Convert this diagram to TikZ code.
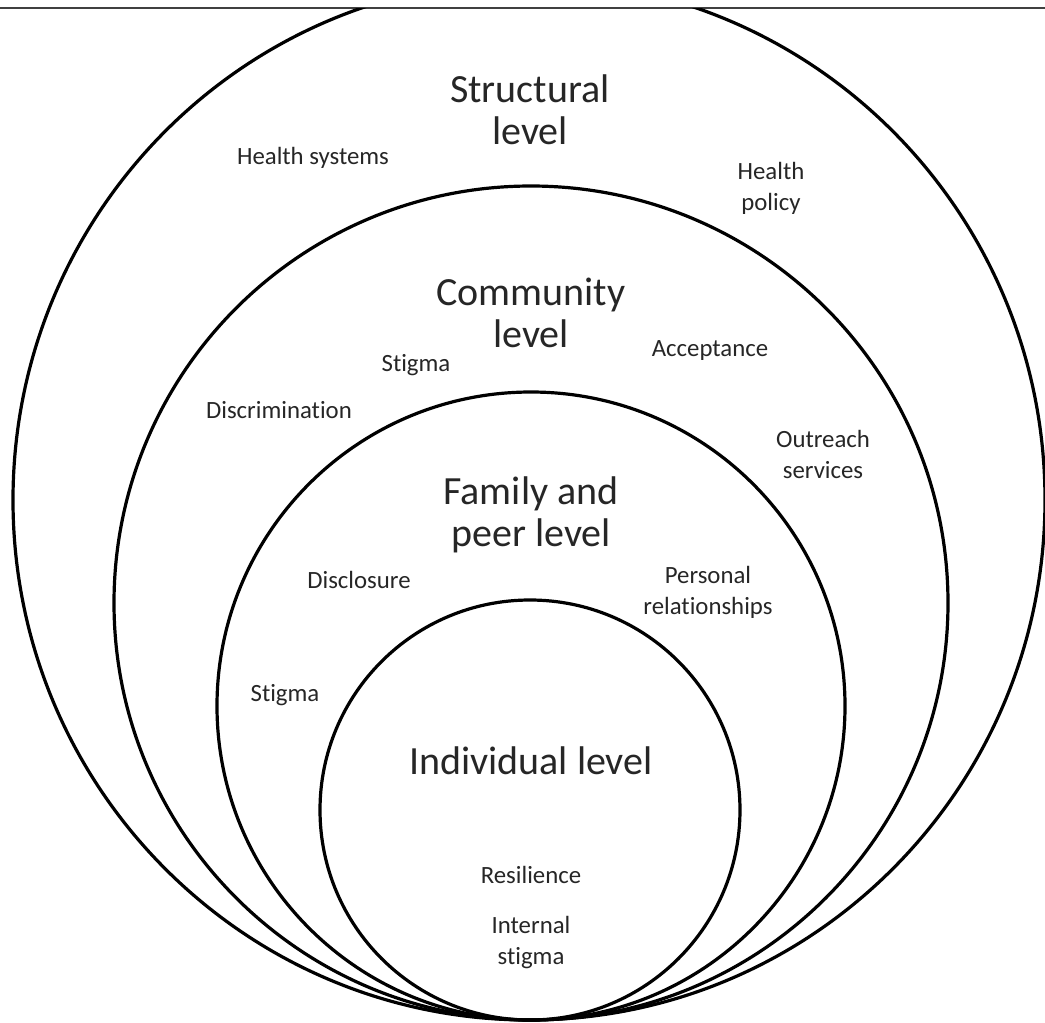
\documentclass[tikz,border=0pt]{standalone}
\usepackage{fontspec}
\setmainfont[Ligatures=NoCommon]{Carlito}
\begin{document}
\begin{tikzpicture}[x=0.5pt,y=-0.5pt,
		ring/.style={line width=1.6pt},
		levelname/.style={align=center, text=black!85, font=\fontsize{20}{21}\selectfont},
		factor/.style={align=center, text=black!85, font=\fontsize{12.4}{15.5}\selectfont}]
		\useasboundingbox (0,0) rectangle (1045,1023);
		\draw[line width=1pt, black!75] (0,8) -- (1045,8);
		% the rings all touch at the bottom
		\begin{scope}
			\clip (0,8) rectangle (1045,1023);
			\draw[ring] (529,500) ellipse [x radius=516, y radius=520];
		\end{scope}
		\draw[ring] (531,603) circle (417);
		\draw[ring] (531,706) circle (314);
		\draw[ring] (530,810) circle (210);
		% level names
		\node at (530,110) [levelname] (S) {Structural\\level};
		\node at (531,313) [levelname] (C) {Community\\level};
		\node at (531,515) [levelname] (F) {Family and\\peer level};
		\node at (531,761) [levelname] (I) {Individual level};
		% factors
		\node at (313,158) [factor] (hs) {Health systems};
		\node at (771,188) [factor] (hp) {Health\\policy};
		\node at (416,365) [factor] (cs) {Stigma};
		\node at (710,351) [factor] (ca) {Acceptance};
		\node at (279,410) [factor] (cd) {Discrimination};
		\node at (823,454) [factor] (co) {Outreach\\services};
		\node at (359,580) [factor] (fd) {Disclosure};
		\node at (708,592) [factor] (fp) {Personal\\relationships};
		\node at (285,695) [factor] (fs) {Stigma};
		\node at (531,875) [factor] (ir) {Resilience};
		\node at (531,943) [factor] (ii) {Internal\\stigma};
		\end{tikzpicture}
\end{document}
